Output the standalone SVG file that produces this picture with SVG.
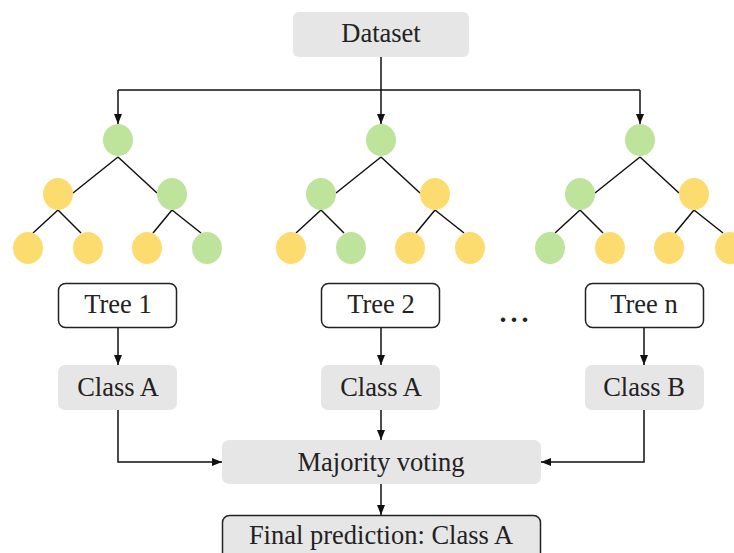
<svg xmlns="http://www.w3.org/2000/svg" width="734" height="553" viewBox="0 0 734 553">
<style>
.t{font-family:"Liberation Serif","Times New Roman",serif;font-size:26.5px;fill:#222;text-anchor:middle}
.g{fill:#e6e6e6}
.w{fill:#fff;stroke:#222;stroke-width:1.5}
.gb{fill:#e6e6e6;stroke:#222;stroke-width:1.5}
.c{fill:none;stroke:#111;stroke-width:1.5}
.e{stroke:#111;stroke-width:1.5}
.G{fill:#bee39b}
.Y{fill:#fddc6f}
</style>
<defs>
<marker id="ah" viewBox="0 0 10 8" refX="10" refY="4" markerWidth="10" markerHeight="8" markerUnits="userSpaceOnUse" orient="auto">
<path d="M0,0L10,4L0,8z" fill="#111"/>
</marker>
</defs>
<g id="connectors">
<path class="c" d="M381,57V90"/>
<path class="c" d="M118,90H640"/>
<path class="c" d="M118,90V124" marker-end="url(#ah)"/>
<path class="c" d="M381,90V124" marker-end="url(#ah)"/>
<path class="c" d="M640,90V124" marker-end="url(#ah)"/>
<path class="c" d="M118,328V365" marker-end="url(#ah)"/>
<path class="c" d="M381,328V365" marker-end="url(#ah)"/>
<path class="c" d="M644,328V365" marker-end="url(#ah)"/>
<path class="c" d="M118,410V462H222" marker-end="url(#ah)"/>
<path class="c" d="M381,410V440" marker-end="url(#ah)"/>
<path class="c" d="M644,410V462H541" marker-end="url(#ah)"/>
<path class="c" d="M381,484V515" marker-end="url(#ah)"/>
</g>
<g id="dataset"><rect class="g" x="293" y="12" width="176" height="45" rx="6"/><text class="t" x="381" y="42">Dataset</text></g>
<g id="tree1-graph" transform="translate(118,0)">
<path class="e" d="M0,157L-45,193M0,157L39,193M-60,210L-85,233M-60,210L-37,233M54,210L35,233M54,210L83,233"/>
<ellipse class="G" cx="0" cy="140" rx="15" ry="16"/>
<ellipse class="Y" cx="-60" cy="194" rx="15" ry="16"/>
<ellipse class="G" cx="54" cy="194" rx="15" ry="16"/>
<ellipse class="Y" cx="-90" cy="248" rx="15" ry="16"/>
<ellipse class="Y" cx="-30" cy="248" rx="15" ry="16"/>
<ellipse class="Y" cx="29" cy="248" rx="15" ry="16"/>
<ellipse class="G" cx="89" cy="248" rx="15" ry="16"/>
</g>
<g id="tree2-graph" transform="translate(381,0)">
<path class="e" d="M0,157L-45,193M0,157L39,193M-60,210L-85,233M-60,210L-37,233M54,210L35,233M54,210L83,233"/>
<ellipse class="G" cx="0" cy="140" rx="15" ry="16"/>
<ellipse class="G" cx="-60" cy="194" rx="15" ry="16"/>
<ellipse class="Y" cx="54" cy="194" rx="15" ry="16"/>
<ellipse class="Y" cx="-90" cy="248" rx="15" ry="16"/>
<ellipse class="G" cx="-30" cy="248" rx="15" ry="16"/>
<ellipse class="Y" cx="29" cy="248" rx="15" ry="16"/>
<ellipse class="Y" cx="89" cy="248" rx="15" ry="16"/>
</g>
<g id="treen-graph" transform="translate(640,0)">
<path class="e" d="M0,157L-45,193M0,157L39,193M-60,210L-85,233M-60,210L-37,233M54,210L35,233M54,210L83,233"/>
<ellipse class="G" cx="0" cy="140" rx="15" ry="16"/>
<ellipse class="G" cx="-60" cy="194" rx="15" ry="16"/>
<ellipse class="Y" cx="54" cy="194" rx="15" ry="16"/>
<ellipse class="G" cx="-90" cy="248" rx="15" ry="16"/>
<ellipse class="Y" cx="-30" cy="248" rx="15" ry="16"/>
<ellipse class="Y" cx="29" cy="248" rx="15" ry="16"/>
<ellipse class="Y" cx="90" cy="248" rx="15" ry="16"/>
</g>
<g id="tree1"><rect class="w" x="58.5" y="283.5" width="118" height="44" rx="7"/><text class="t" x="118" y="313">Tree 1</text></g>
<g id="tree2"><rect class="w" x="321.5" y="283.5" width="118" height="44" rx="7"/><text class="t" x="381" y="313">Tree 2</text></g>
<g id="treen"><rect class="w" x="585.5" y="283.5" width="118" height="44" rx="7"/><text class="t" x="644" y="313">Tree n</text></g>
<g id="dots"><text class="t" x="516" y="322" style="font-weight:bold;font-size:28px;letter-spacing:4px">...</text></g>
<g id="class1"><rect class="g" x="58" y="365" width="119" height="45" rx="7"/><text class="t" x="118" y="396">Class A</text></g>
<g id="class2"><rect class="g" x="321" y="365" width="119" height="45" rx="7"/><text class="t" x="381" y="396">Class A</text></g>
<g id="classn"><rect class="g" x="585" y="365" width="119" height="45" rx="7"/><text class="t" x="644" y="396">Class B</text></g>
<g id="voting"><rect class="g" x="222" y="440" width="319" height="44" rx="7"/><text class="t" x="381" y="471">Majority voting</text></g>
<g id="final"><rect class="gb" x="222.5" y="515.5" width="318" height="50" rx="7"/><text class="t" x="381" y="544">Final prediction: Class A</text></g>
</svg>
